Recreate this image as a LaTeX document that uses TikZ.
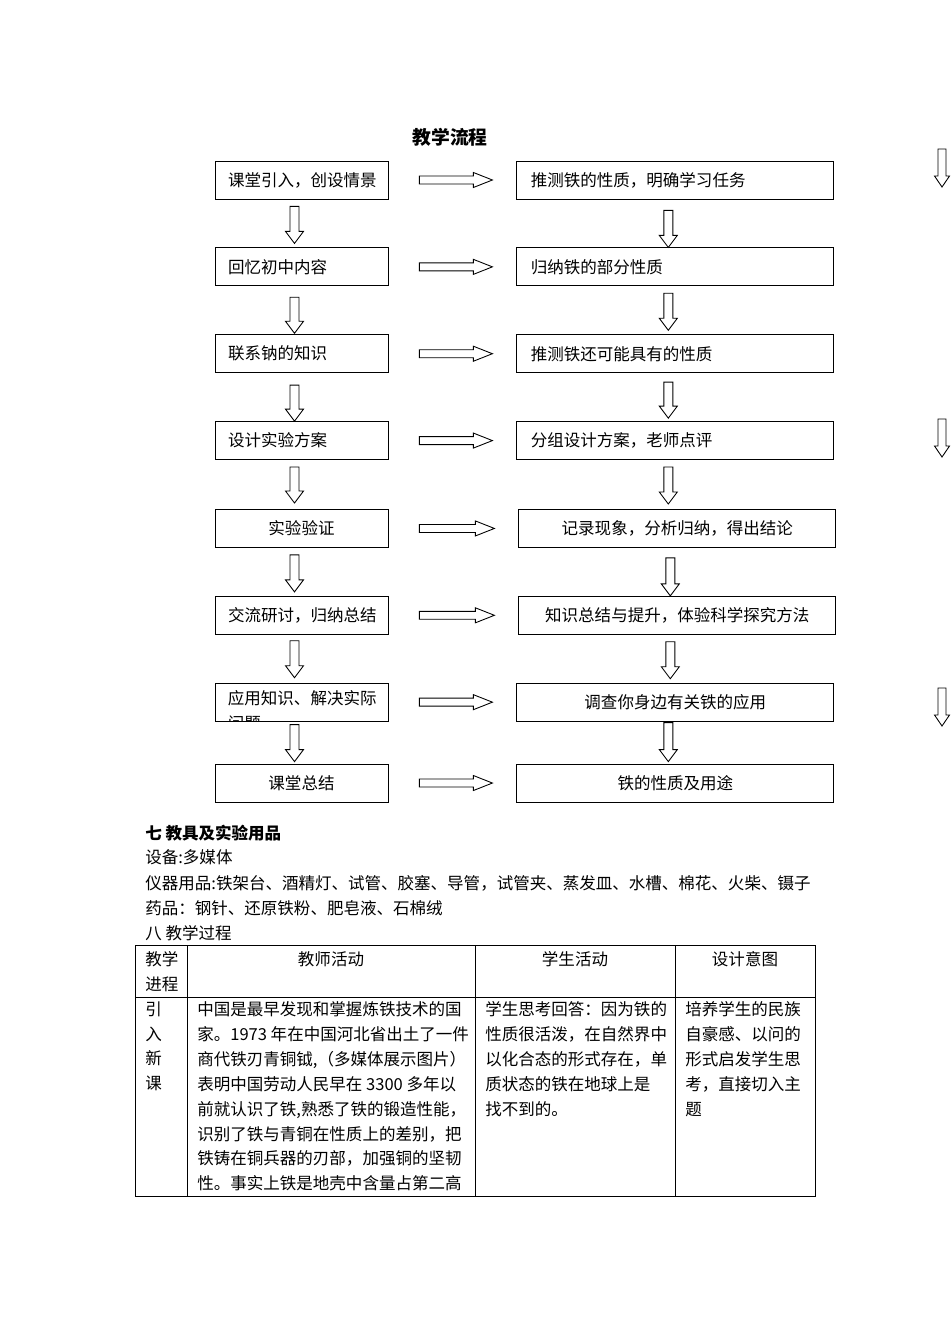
\documentclass[tikz,border=0pt]{standalone}
\usepackage{fontspec}
\setmainfont{Noto Sans CJK SC}
\usetikzlibrary{positioning,calc}
\newcommand\bodyfont{\fontsize{9.4pt}{14.2pt}\selectfont}
\tikzset{
  stepL/.style={
    rectangle, draw, line width=0.5pt, minimum height=0.76cm,
    text width=2.94cm, inner xsep=0.26cm, inner ysep=0pt, align=left},
  stepLc/.style={stepL, align=center},
  stepR/.style={stepL, text width=5.78cm, inner xsep=0.28cm},
  stepRc/.style={stepR, align=center},
  hollow/.style={draw, line width=0.5pt, fill=white},
  txtline/.style={anchor=west, inner sep=0pt},
  cell/.style={anchor=north west, inner sep=0pt, align=left},
  headcell/.style={inner sep=0pt}
}
% hollow block arrow between two boxes of a row
\newcommand\rightarr[2]{%
  \draw[hollow] let \p1=($(#1.east)+(31,0)$), \p2=($(#2.west)+(-24,0)$) in
    (\x1,{\y1+0.08cm}) -- ({\x2-0.38cm},{\y1+0.08cm}) -- ({\x2-0.38cm},{\y1+0.15cm})
    -- (\x2,\y1) -- ({\x2-0.38cm},{\y1-0.15cm}) -- ({\x2-0.38cm},{\y1-0.08cm})
    -- (\x1,{\y1-0.08cm}) -- cycle;}
% hollow block arrow down a column (gaps in px)
\newcommand\downarr[4]{%
  \draw[hollow] let \p1=($(#1.south)+(-7,#3)$), \p2=($(#2.north)+(-7,-#4)$) in
    ({\x1-0.09cm},\y1) -- ({\x1-0.09cm},{\y2+0.24cm}) -- ({\x1-0.18cm},{\y2+0.24cm})
    -- (\x1,\y2) -- ({\x1+0.18cm},{\y2+0.24cm}) -- ({\x1+0.09cm},{\y2+0.24cm})
    -- ({\x1+0.09cm},\y1) -- cycle;}
\newcommand\sidearr[2]{%
  \draw[hollow] (938,#1) -- (938,{#2-11}) -- (934.5,{#2-11}) -- (942,#2)
    -- (949.5,{#2-11}) -- (946,{#2-11}) -- (946,#1) -- cycle;}

\begin{document}
\begin{tikzpicture}[x=0.02cm, y=-0.02cm, font=\bodyfont]
  \useasboundingbox[fill=white] (0,0) rectangle (950,1344);

  \node[headcell, font=\fontsize{10.7pt}{12pt}\selectfont\bfseries] (title) at (450,137) {教学流程};

  % teacher side
  \node[stepL] (a1) at (301.5,180) {课堂引入，创设情景};
  \node[stepL, below=0.96cm of a1] (a2) {回忆初中内容};
  \node[stepL, below=0.96cm of a2] (a3) {联系钠的知识};
  \node[stepL, below=0.96cm of a3] (a4) {设计实验方案};
  \node[stepLc, below=0.98cm of a4] (a5) {实验验证};
  \node[stepL, below=0.96cm of a5] (a6) {交流研讨，归纳总结};
  \node[stepL, below=0.96cm of a6] (a7) {};
  \node[stepLc, below=0.84cm of a7] (a8) {课堂总结};
  \begin{scope}
    \clip (a7.south west) rectangle (a7.north east);
    \node[cell, font=\fontsize{9.4pt}{14.4pt}\selectfont] (a7t)
      at ($(a7.north west)+(13,7)$) {应用知识、解决实际\\问题};
  \end{scope}

  % student side
  \node[stepR, right=2.56cm of a1] (b1) {推测铁的性质，明确学习任务};
  \node[stepR, right=2.56cm of a2] (b2) {归纳铁的部分性质};
  \node[stepR, right=2.56cm of a3] (b3) {推测铁还可能具有的性质};
  \node[stepR, right=2.56cm of a4] (b4) {分组设计方案，老师点评};
  \node[stepRc, right=2.6cm of a5] (b5) {记录现象，分析归纳，得出结论};
  \node[stepRc, right=2.6cm of a6] (b6) {知识总结与提升，体验科学探究方法};
  \node[stepRc, right=2.56cm of a7] (b7) {调查你身边有关铁的应用};
  \node[stepRc, right=2.56cm of a8] (b8) {铁的性质及用途};

  \rightarr{a1}{b1}
  \rightarr{a2}{b2}
  \rightarr{a3}{b3}
  \rightarr{a4}{b4}
  \rightarr{a5}{b5}
  \rightarr{a6}{b6}
  \rightarr{a7}{b7}
  \rightarr{a8}{b8}

  \downarr{a1}{a2}{7}{4}
  \downarr{a2}{a3}{11}{1}
  \downarr{a3}{a4}{12}{0}
  \downarr{a4}{a5}{7}{6}
  \downarr{a5}{a6}{7}{4}
  \downarr{a6}{a7}{6}{5}
  \downarr{a7}{a8}{3}{2}

  \downarr{b1}{b2}{11}{0}
  \downarr{b2}{b3}{7}{4}
  \downarr{b3}{b4}{9}{3}
  \downarr{b4}{b5}{7}{5}
  \downarr{b5}{b6}{10}{0}
  \downarr{b6}{b7}{7}{4}
  \downarr{b7}{b8}{1}{2}

  \sidearr{149}{187}
  \sidearr{419}{457}
  \sidearr{688}{726}

  % text below the chart
  \node[txtline, font=\bodyfont\bfseries] (sec7) at (145,833) {七 教具及实验用品};
  \node[txtline] (equip) at (145,857) {设备:多媒体};
  \node[txtline] (instr) at (145,883)
    {仪器用品:铁架台、酒精灯、试管、胶塞、导管，试管夹、蒸发皿、水槽、棉花、火柴、镊子};
  \node[txtline] (chem) at (145,908) {药品：钢针、还原铁粉、肥皂液、石棉绒};
  \node[txtline] (sec8) at (145,933) {八 教学过程};

  % table
  \draw[line width=0.5pt] (135,945) rectangle (815,1196);
  \draw[line width=0.5pt] (187,945) -- (187,1196)
    (475,945) -- (475,1196)
    (675,945) -- (675,1196)
    (135,997) -- (815,997);

  \node[cell] (h1) at (145,951) {教学\\进程};
  \node[headcell] (h2) at (331,959) {教师活动};
  \node[headcell] (h3) at (575,959) {学生活动};
  \node[headcell] (h4) at (745,959) {设计意图};

  \node[cell] (c1) at (145,1001) {引\\入\\新\\课};
  \node[cell] (c2) at (197,1001) {中国是最早发现和掌握炼铁技术的国\\
    家。1973 年在中国河北省出土了一件\\
    商代铁刃青铜钺,（多媒体展示图片）\\
    表明中国劳动人民早在 3300 多年以\\
    前就认识了铁,熟悉了铁的锻造性能，\\
    识别了铁与青铜在性质上的差别，把\\
    铁铸在铜兵器的刃部，加强铜的坚韧\\
    性。事实上铁是地壳中含量占第二高};
  \node[cell] (c3) at (485,1001) {学生思考回答：因为铁的\\
    性质很活泼，在自然界中\\
    以化合态的形式存在，单\\
    质状态的铁在地球上是\\
    找不到的。};
  \node[cell] (c4) at (685,1001) {培养学生的民族\\
    自豪感、以问的\\
    形式启发学生思\\
    考，直接切入主\\
    题};
\end{tikzpicture}
\end{document}
